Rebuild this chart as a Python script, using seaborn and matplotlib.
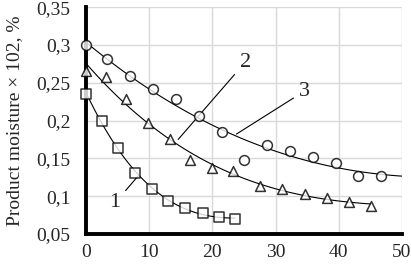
import numpy as np
import pandas as pd
import matplotlib
matplotlib.use('Agg')
import matplotlib.pyplot as plt
import seaborn as sns

# drying time vs product moisture, three regimes
t1 = [0, 2.5, 5.1, 7.8, 10.4, 13.0, 15.7, 18.5, 21.1, 23.6]
m1 = [0.235, 0.200, 0.164, 0.131, 0.110, 0.093, 0.084, 0.078, 0.072, 0.070]

t2 = [0, 3.2, 6.4, 9.8, 13.3, 16.5, 19.9, 23.2, 27.6, 31.1, 34.6, 38.1, 41.7, 45.1]
m2 = [0.265, 0.257, 0.229, 0.197, 0.175, 0.148, 0.137, 0.133, 0.114, 0.110, 0.103, 0.098, 0.092, 0.087]

t3 = [0, 3.4, 7.0, 10.6, 14.2, 17.9, 21.5, 25.0, 28.7, 32.3, 36.0, 39.5, 43.1, 46.7]
m3 = [0.300, 0.282, 0.259, 0.242, 0.228, 0.206, 0.185, 0.148, 0.168, 0.160, 0.152, 0.144, 0.127, 0.127]

x_ticks = [0, 10, 20, 30, 40, 50]
y_ticks = [0.05, 0.10, 0.15, 0.20, 0.25, 0.30, 0.35]
y_labels = ['0,05', '0,1', '0,15', '0,2', '0,25', '0,3', '0,35']

sns.set_style('white')
plt.rcParams['font.family'] = ['Liberation Serif', 'DejaVu Serif']

fig, ax = plt.subplots(figsize=(4.11, 2.64), dpi=100)
fig.subplots_adjust(left=0.209, right=0.978, bottom=0.114, top=0.973)

ax.set_xlim(0, 50)
ax.set_ylim(0.05, 0.35)

series = [(t1, m1, 's', True), (t2, m2, '^', True), (t3, m3, 'o', False)]
for t, m, mk, trunc in series:
    sns.regplot(x=t, y=m, order=3, ci=None, marker=mk, truncate=trunc, ax=ax,
                scatter_kws=dict(s=50, facecolors='white', edgecolors='black',
                                 linewidths=1.1, zorder=5, clip_on=False),
                line_kws=dict(color='black', lw=0.8, zorder=4))

ax.set_xlim(0, 50)
ax.set_ylim(0.05, 0.35)
ax.set_xticks(x_ticks)
ax.set_yticks(y_ticks)
ax.set_yticklabels(y_labels)
ax.tick_params(labelsize=14, length=0)
ax.tick_params(axis='x', pad=7)
ax.tick_params(axis='y', pad=11)
ax.grid(True, color='#d9d9d9', lw=1)
ax.set_axisbelow(True)

for side in ['top', 'right']:
    ax.spines[side].set_visible(False)
for side in ['left', 'bottom']:
    ax.spines[side].set_linewidth(2.8)
    ax.spines[side].set_color('black')

ax.set_ylabel('Product moisture × 102, %', fontsize=14)
ax.yaxis.set_label_coords(-0.199, 0.5)
ax.set_xlabel('')

# curve labels with leader lines
arrow = dict(arrowstyle='-', color='black', lw=0.8, shrinkA=2, shrinkB=0)
ax.annotate('1', xy=(8.3, 0.127), xytext=(4.6, 0.091), fontsize=16,
            ha='center', va='center', arrowprops=arrow)
ax.annotate('2', xy=(14.6, 0.175), xytext=(25.2, 0.277), fontsize=16,
            ha='center', va='center', arrowprops=arrow)
ax.annotate('3', xy=(23.8, 0.182), xytext=(34.6, 0.239), fontsize=16,
            ha='center', va='center', arrowprops=arrow)

fig.savefig('out.png', dpi=100)
